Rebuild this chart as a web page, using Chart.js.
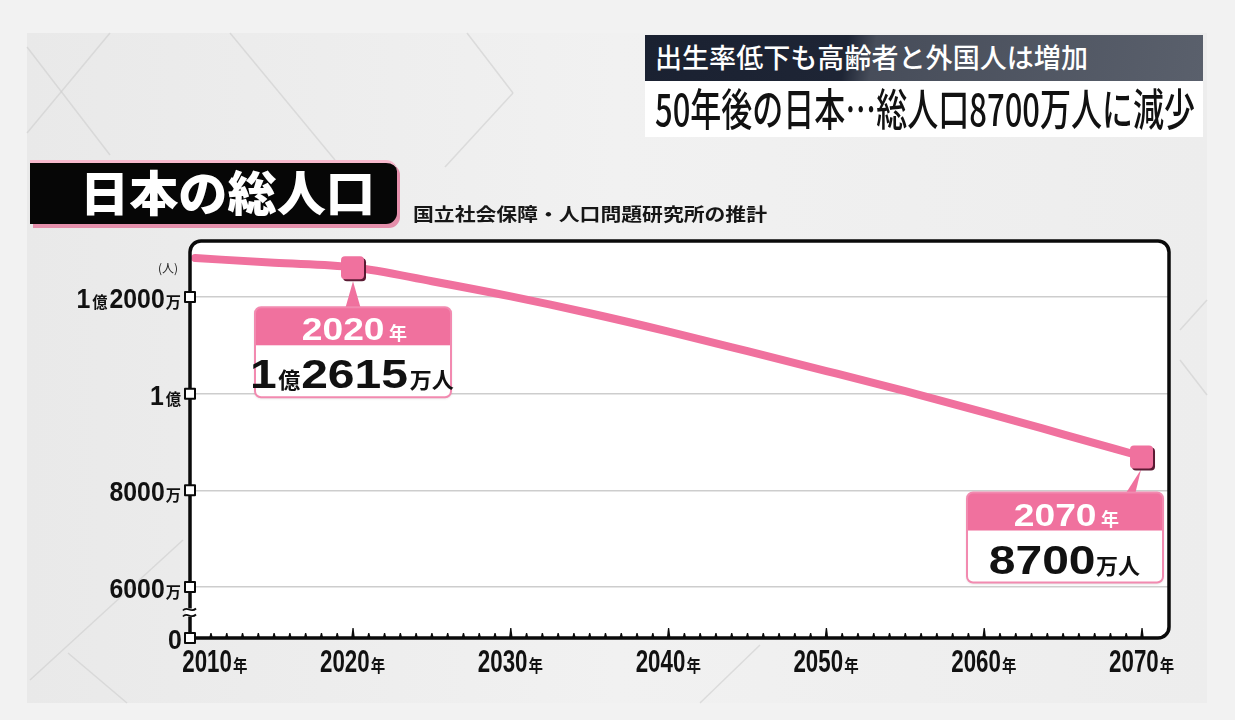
<!DOCTYPE html>
<html><head><meta charset="utf-8">
<script src="https://cdn.jsdelivr.net/npm/chart.js@4.4.1/dist/chart.umd.min.js"></script>
<style>
html,body{margin:0;padding:0;background:#f2f2f2;width:1235px;height:720px;overflow:hidden;font-family:"Noto Sans CJK JP",sans-serif;}
#wrap{position:absolute;left:0;top:0;width:1235px;height:720px;}
canvas{position:absolute;left:0;top:0;}
.fit{position:absolute;white-space:nowrap;transform-origin:0 0;line-height:1;font-family:"Noto Sans CJK JP",sans-serif;}
#titleBox{position:absolute;left:30px;top:160px;width:367px;height:61px;background:#060606;border-radius:0 11px 11px 0;border-top:3px solid #f7b9cd;box-shadow:3px 4px 0 #e48fab;}
#hdrBar{position:absolute;left:645px;top:35px;width:558px;height:46px;background:linear-gradient(100deg,#1a2131 0%,#1e2535 36%,#474d5a 41%,#5a606c 100%);}
#hdrBox{position:absolute;left:645px;top:81px;width:558px;height:56px;background:rgba(255,255,255,0.96);}
</style></head>
<body>
<div id="wrap">
<canvas id="c" width="1235" height="720"></canvas>
<div id="hdrBar"></div><div id="hdrBox"></div><div id="titleBox"></div>
<span class="fit" data-x="655" data-cy="58" data-w="433" style="font-size:27px;font-weight:500;color:#fff">出生率低下も高齢者と外国人は増加</span>
<span class="fit" data-x="655" data-cy="110" data-w="540" style="font-size:44px;font-weight:500;color:#111">50年後の日本…総人口8700万人に減少</span>
<span class="fit" data-x="80" data-cy="193" data-w="295" style="font-size:48px;font-weight:900;color:#fff">日本の総人口</span>
<span class="fit" data-x="413" data-cy="214" data-w="354" style="font-size:18px;font-weight:700;color:#161616">国立社会保障・人口問題研究所の推計</span>
</div>
<script>
// ---- data (万人) ----
const years = [2010, 2015, 2020, 2025, 2030, 2035, 2040, 2045, 2050, 2055, 2060, 2065, 2070];
const population = [12806, 12709, 12615, 12326, 12012, 11664, 11284, 10880, 10469, 10051, 9615, 9159, 8700];
const yTickValues = [0, 6000, 8000, 10000, 12000];
const yTickLabels = ['0', '6000万', '8000万', '1億', '1億2000万'];
const xTickYears = [2010, 2020, 2030, 2040, 2050, 2060, 2070];
const xTickLabels = ['2010年', '2020年', '2030年', '2040年', '2050年', '2060年', '2070年'];
const calloutYears = [2020, 2070];
const calloutHeads = ['2020年', '2070年'];
const calloutBodies = ['1億2615万人', '8700万人'];
const unitLabel = '(人)';

// ---- scale ranges (axis break below 6000万) ----
const Y_MIN = 4945, Y_MAX = 13159, X_MIN = 2009.67, X_MAX = 2071.71;
const PINK = '#F0719E';

// fit header texts
document.querySelectorAll('.fit').forEach(el => {
  const fs = parseFloat(el.style.fontSize);
  el.style.left = el.dataset.x + 'px';
  el.style.top = (parseFloat(el.dataset.cy) - fs * 0.56) + 'px';
  const w = el.getBoundingClientRect().width;
  el.style.transform = 'scaleX(' + (parseFloat(el.dataset.w) / w) + ')';
});

function roundPath(ctx, x, y, w, h, r) {
  const [tl, tr, br, bl] = Array.isArray(r) ? r : [r, r, r, r];
  ctx.beginPath();
  ctx.moveTo(x + tl, y);
  ctx.lineTo(x + w - tr, y); ctx.arcTo(x + w, y, x + w, y + tr, tr);
  ctx.lineTo(x + w, y + h - br); ctx.arcTo(x + w, y + h, x + w - br, y + h, br);
  ctx.lineTo(x + bl, y + h); ctx.arcTo(x, y + h, x, y + h - bl, bl);
  ctx.lineTo(x, y + tl); ctx.arcTo(x, y, x + tl, y, tl);
  ctx.closePath();
}

function drawMixed(ctx, text, x, y, align, o) {
  const gap = o.gap || 0;
  ctx.textBaseline = 'alphabetic'; ctx.textAlign = 'left';
  const parts = text.match(/[0-9]+|[^0-9]+/g).map(t => {
    const big = /[0-9]/.test(t);
    const font = big ? o.big : o.small;
    const s = big ? o.bs : o.ss;
    ctx.font = font;
    const m = ctx.measureText(t);
    return { t, font, s, l: m.actualBoundingBoxLeft, w: (m.actualBoundingBoxLeft + m.actualBoundingBoxRight) * s, dy: big ? 0 : (o.sdy || 0) };
  });
  const total = parts.reduce((a, p) => a + p.w, 0) + gap * (parts.length - 1);
  let cx = align === 'right' ? x - total : align === 'center' ? x - total / 2 : x;
  ctx.fillStyle = o.color;
  parts.forEach(p => {
    ctx.save(); ctx.font = p.font; ctx.translate(cx + p.l * p.s, y + p.dy); ctx.scale(p.s, 1);
    ctx.fillText(p.t, 0, 0); ctx.restore();
    cx += p.w + gap;
  });
}

const decor = {
  id: 'decor',
  beforeDraw(chart) {
    const ctx = chart.ctx;
    const { left, top, right, bottom } = chart.chartArea;
    ctx.save();
    const g = ctx.createLinearGradient(27, 0, 1207, 0);
    g.addColorStop(0, '#e9e9e9'); g.addColorStop(0.5, '#f1f1f1'); g.addColorStop(1, '#ededed');
    ctx.fillStyle = g; ctx.fillRect(27, 33, 1180, 670);
    ctx.strokeStyle = 'rgba(205,205,205,0.6)'; ctx.lineWidth = 1.5;
    [[27, 47, 110, 155], [27, 133, 110, 33], [230, 33, 335, 160], [467, 33, 513, 93], [513, 93, 445, 167],
     [30, 680, 183, 540], [68, 653, 127, 703], [700, 703, 760, 645], [1180, 330, 1207, 300], [1180, 360, 1207, 395]]
      .forEach(l => { ctx.beginPath(); ctx.moveTo(l[0], l[1]); ctx.lineTo(l[2], l[3]); ctx.stroke(); });
    ctx.fillStyle = '#ffffff';
    roundPath(ctx, left, top, right - left, bottom - top, [11, 11, 11, 0]);
    ctx.fill();
    ctx.restore();
  },
  afterDatasetsDraw(chart) {
    const ctx = chart.ctx;
    const { left, top, right, bottom } = chart.chartArea;
    const xs = chart.scales.x, ys = chart.scales.y;
    ctx.save();
    ctx.strokeStyle = '#0a0a0a'; ctx.lineWidth = 3.5; ctx.lineJoin = 'round';
    roundPath(ctx, left, top, right - left, bottom - top, [11, 11, 11, 0]);
    ctx.stroke();
    ctx.fillStyle = '#0a0a0a';
    for (let yr = Math.ceil(X_MIN); yr <= 2070; yr++) {
      const px = xs.getPixelForValue(yr);
      if (px < left + 6) continue;
      const len = yr % 10 === 0 ? 10 : 5;
      ctx.beginPath();
      ctx.moveTo(px - 1.8, bottom); ctx.lineTo(px - 0.6, bottom - len); ctx.lineTo(px + 0.6, bottom - len); ctx.lineTo(px + 1.8, bottom);
      ctx.closePath(); ctx.fill();
    }
    const yb = (ys.getPixelForValue(6000) + ys.getPixelForValue(Y_MIN)) / 2;
    ctx.fillStyle = '#ffffff'; ctx.fillRect(left - 4, yb - 4, 8, 8);
    ctx.strokeStyle = '#0a0a0a'; ctx.lineWidth = 1.8;
    [-3, 3].forEach(d => {
      ctx.beginPath();
      ctx.moveTo(left - 7, yb + d + 1);
      ctx.bezierCurveTo(left - 3, yb + d - 4, left + 1, yb + d + 4, left + 6, yb + d - 1);
      ctx.stroke();
    });
    yTickValues.forEach((v, i) => {
      const py = ys.getPixelForValue(v === 0 ? Y_MIN : v);
      ctx.fillStyle = '#ffffff'; ctx.strokeStyle = '#0a0a0a'; ctx.lineWidth = 2;
      ctx.fillRect(left - 5, py - 5, 10, 10); ctx.strokeRect(left - 5, py - 5, 10, 10);
      drawMixed(ctx, yTickLabels[i], left - 9, py + 11, 'right', {
        big: 'bold 27px "Liberation Sans", Arial, sans-serif', bs: 0.92,
        small: 'bold 16px "Noto Sans CJK JP", sans-serif', ss: 0.95, gap: 2, color: '#111'
      });
    });
    ctx.font = '12px "Noto Sans CJK JP", sans-serif'; ctx.fillStyle = '#222'; ctx.textAlign = 'right';
    ctx.fillText(unitLabel, left - 12, top + 32);
    xTickYears.forEach((yr, i) => {
      const px = xs.getPixelForValue(yr);
      const first = i === 0;
      drawMixed(ctx, xTickLabels[i], first ? left - 7 : px, bottom + 34, first ? 'left' : 'center', {
        big: 'bold 31px "Liberation Sans", Arial, sans-serif', bs: 0.72,
        small: 'bold 17px "Noto Sans CJK JP", sans-serif', ss: 0.85, gap: 2, color: '#111'
      });
    });
    ctx.restore();
  },
  afterDraw(chart) {
    const ctx = chart.ctx;
    const meta = chart.getDatasetMeta(0);
    const layout = { 2020: { dx: -98, dy: 40 }, 2070: { dx: -175, dy: 36 } };
    const BW = 196, BH = 90, HH = 38;
    ctx.save();
    calloutYears.forEach((yr, i) => {
      const pt = meta.data[years.indexOf(yr)];
      const px = pt.x, py = pt.y;
      const L = layout[yr];
      const bx = px + L.dx, by = py + L.dy;
      ctx.fillStyle = PINK;
      ctx.beginPath();
      if (yr === 2020) {
        ctx.moveTo(px - 8, by + 2); ctx.lineTo(px, py + 14); ctx.lineTo(px + 8, by + 2);
      } else {
        ctx.moveTo(px - 17, by + 2); ctx.lineTo(px - 1, py + 13); ctx.lineTo(px - 7, by + 2);
      }
      ctx.closePath(); ctx.fill();
      ctx.save();
      ctx.shadowColor = 'rgba(0,0,0,0.18)'; ctx.shadowBlur = 3; ctx.shadowOffsetY = 1;
      ctx.fillStyle = '#ffffff'; roundPath(ctx, bx, by, BW, BH, 6); ctx.fill();
      ctx.restore();
      ctx.save(); roundPath(ctx, bx, by, BW, BH, 6); ctx.clip();
      ctx.fillStyle = PINK; ctx.fillRect(bx, by, BW, HH);
      ctx.restore();
      ctx.strokeStyle = '#F28AB0'; ctx.lineWidth = 2; roundPath(ctx, bx, by, BW, BH, 6); ctx.stroke();
      drawMixed(ctx, calloutHeads[i], bx + BW / 2 + 2, by + 33, 'center', {
        big: 'bold 31px "Liberation Sans", Arial, sans-serif', bs: 1.2,
        small: 'bold 18px "Noto Sans CJK JP", sans-serif', ss: 1, gap: 6, color: '#ffffff'
      });
      drawMixed(ctx, calloutBodies[i], bx + BW / 2, by + 81, 'center', {
        big: 'bold 40px "Liberation Sans", Arial, sans-serif', bs: 1.2,
        small: 'bold 22px "Noto Sans CJK JP", sans-serif', ss: 1, gap: 2, color: '#111'
      });
      ctx.fillStyle = '#5a1a33'; roundPath(ctx, px - 10, py - 9, 23, 23, 4); ctx.fill();
      ctx.fillStyle = PINK; roundPath(ctx, px - 12, py - 11, 23, 23, 4); ctx.fill();
    });
    ctx.restore();
  }
};

new Chart(document.getElementById('c'), {
  type: 'line',
  data: {
    datasets: [{
      data: years.map((y, i) => ({ x: y, y: population[i] })),
      borderColor: PINK, borderWidth: 8, pointRadius: 0, pointHoverRadius: 0,
      cubicInterpolationMode: 'monotone', borderCapStyle: 'round', borderJoinStyle: 'round', fill: false
    }]
  },
  options: {
    responsive: false, animation: false, events: [],
    layout: { padding: { left: 190, top: 241, right: 66, bottom: 82 } },
    plugins: { legend: { display: false }, tooltip: { enabled: false } },
    scales: {
      x: {
        type: 'linear', min: X_MIN, max: X_MAX,
        grid: { display: false }, border: { display: false }, ticks: { display: false },
        afterFit(s) { s.height = 0; }
      },
      y: {
        type: 'linear', min: Y_MIN, max: Y_MAX,
        grid: { drawTicks: false, lineWidth: 1.5, color: c => (c.tick && c.tick.value === Y_MIN) ? 'rgba(0,0,0,0)' : '#cdcdcd' },
        border: { display: false }, ticks: { display: false },
        afterBuildTicks(s) { s.ticks = yTickValues.map(v => ({ value: v === 0 ? Y_MIN : v })); },
        afterFit(s) { s.width = 0; }
      }
    }
  },
  plugins: [decor]
});
</script>
</body></html>
